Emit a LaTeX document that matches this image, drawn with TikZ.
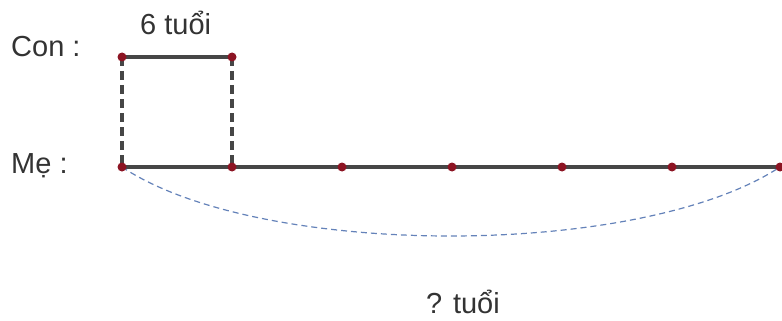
\documentclass[tikz,border=0pt]{standalone}
\usepackage{fontspec}
\setmainfont{Liberation Sans}
\definecolor{linegray}{RGB}{70,70,70}
\definecolor{dotred}{RGB}{140,20,35}
\definecolor{arcblue}{RGB}{100,130,185}
\begin{document}
\begin{tikzpicture}[x=1pt,y=-1pt,
  lbl/.style={anchor=base west,inner sep=0pt,font=\fontsize{29}{31}\selectfont,text=black!80},
  seg/.style={linegray,line width=3.5pt},
  vdash/.style={linegray,line width=3.5pt,dash pattern=on 9pt off 5pt},
  pt/.style={circle,fill=dotred,inner sep=0pt,minimum size=9pt},
  arcline/.style={arcblue,line width=1.2pt,dash pattern=on 6pt off 4pt}]
\useasboundingbox (0,0) rectangle (782,321);
\node[lbl] (con) at (11,57) {Con :};
\node[lbl] (me) at (11,173) {Mẹ :};
\node[lbl] (six) at (140,35) {6 tuổi};
\node[lbl] (q) at (426,313) {? tuổi};
\coordinate (c1) at (122,57);
\coordinate (c2) at (232,57);
\foreach \i/\x in {0/122,1/232,2/342,3/452,4/562,5/672,6/780}
  \coordinate (m\i) at (\x,167);
\draw[arcline] (m0) .. controls (260,259) and (640,259) .. (m6);
\draw[vdash] (c1) -- (m0);
\draw[vdash] (c2) -- (m1);
\draw[seg] (c1) -- (c2);
\draw[seg] (m0) -- (m6);
\foreach \i in {0,...,6} \node[pt] (d\i) at (m\i) {};
\node[pt] (e1) at (c1) {};
\node[pt] (e2) at (c2) {};
\end{tikzpicture}
\end{document}
